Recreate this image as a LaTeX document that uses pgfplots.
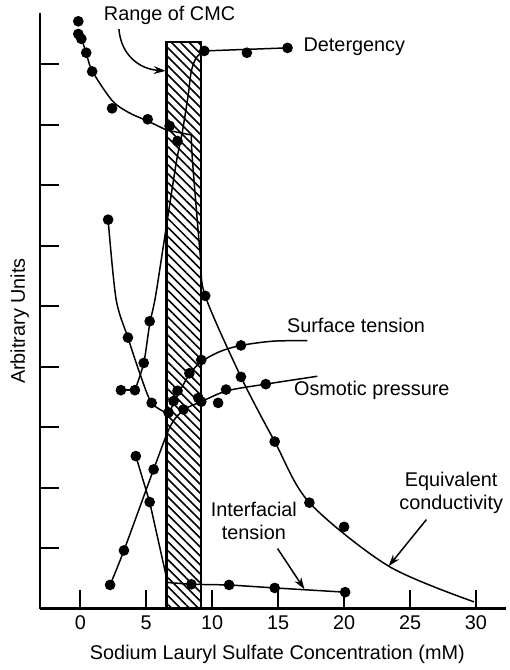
\documentclass[border=0pt]{standalone}
\usepackage{pgfplots}
\pgfplotsset{compat=1.18}
\usepackage{fontspec}
\setmainfont{Liberation Sans}
\usetikzlibrary{patterns.meta,arrows.meta}
\begin{document}
\begin{tikzpicture}[font=\fontsize{10}{11.5}\selectfont]
\begin{axis}[
  scale only axis, width=235pt, height=300pt,
  xmin=-3.08, xmax=32.26, ymin=0, ymax=9.84,
  axis x line=bottom, axis y line=left,
  axis line style={-, line width=1.1pt},
  tick align=inside, major tick length=9.5pt,
  tick style={line width=1pt, black},
  xtick={0,5,...,30}, ytick={1,2,...,9}, yticklabels={},
  /pgf/number format/assume math mode=true,
  ticklabel style={font=\fontsize{10}{11.5}\selectfont},
  xlabel={Sodium Lauryl Sulfate Concentration (mM)},
  ylabel={Arbitrary Units},
  xlabel style={at={(axis description cs:0.51,-0.0767)}, anchor=center},
  ylabel style={at={(axis description cs:-0.0426,0.483)}, anchor=center},
  clip=false,
  every axis plot/.append style={line width=0.75pt},
]
% invisible frame for the page size
\path (rel axis cs:-0.0851,-0.0967) rectangle (rel axis cs:1,1.02);

% CMC range box
\addplot[draw=black, line width=1.1pt, pattern={Lines[angle=-45,distance=3.2pt,line width=0.8pt]}]
  coordinates {(6.54,0) (6.54,9.37) (9.17,9.37) (9.17,0)};

% Equivalent conductivity
\addplot[smooth] coordinates {(-0.15,9.50) (0.08,9.42) (0.45,9.19) (0.90,8.89) (2.41,8.40) (3.68,8.20) (5.11,8.06) (6.54,7.91)};
\addplot[] coordinates {(6.54,7.91) (8.42,7.83)};
\addplot[smooth] coordinates {(8.42,7.83) (8.50,7.42) (9.10,5.83) (9.47,5.17) (12.18,3.83) (14.74,2.76) (17.37,1.75) (23.38,0.70) (29.85,0.11)};
\addplot[only marks, mark=*, mark size=2.3pt] coordinates {(-0.15,9.71) (-0.15,9.50) (0.08,9.42) (0.45,9.19) (0.90,8.88) (2.41,8.27) (5.11,8.09) (6.77,7.98) (7.37,7.73) (9.47,5.17) (12.18,3.83) (14.74,2.76) (17.37,1.75) (20.00,1.35)};

% Detergency
\addplot[] coordinates {(3.08,3.61) (4.14,3.61)};
\addplot[smooth] coordinates {(4.14,3.61) (4.81,4.06) (5.26,4.70) (5.71,5.17) (6.54,6.34) (7.29,7.39) (7.67,7.80) (7.97,8.19) (8.20,8.52) (8.42,8.89) (8.80,9.11) (9.40,9.22)};
\addplot[] coordinates {(9.40,9.22) (15.71,9.27)};
\addplot[only marks, mark=*, mark size=2.3pt] coordinates {(3.08,3.61) (4.14,3.61) (4.81,4.06) (5.26,4.75) (9.40,9.22) (12.63,9.19) (15.71,9.27)};

% Surface tension
\addplot[smooth] coordinates {(2.11,6.43) (2.71,5.12) (3.61,4.48) (4.51,3.89) (5.41,3.40) (6.69,3.22)};
\addplot[smooth] coordinates {(6.69,3.22) (7.44,3.55) (8.27,3.87) (9.17,4.08) (10.60,4.25) (12.18,4.35) (14.59,4.42) (17.22,4.43)};
\addplot[only marks, mark=*, mark size=2.3pt] coordinates {(2.11,6.43) (3.61,4.48) (5.41,3.40) (6.69,3.24) (7.07,3.43) (7.37,3.60) (8.27,3.89) (9.17,4.11) (12.18,4.35)};

% Osmotic pressure
\addplot[smooth] coordinates {(2.26,0.39) (3.31,0.96) (5.56,2.30) (6.84,3.02) (7.89,3.29) (9.17,3.42) (11.13,3.60) (14.06,3.71) (17.97,3.84)};
\addplot[only marks, mark=*, mark size=2.3pt] coordinates {(2.26,0.39) (3.31,0.96) (5.56,2.30) (7.82,3.29) (8.95,3.48) (9.17,3.42) (10.45,3.40) (11.05,3.62) (14.06,3.71)};

% Interfacial tension
\addplot[] coordinates {(4.21,2.52) (5.26,1.76) (6.62,0.43) (8.42,0.40) (11.28,0.39) (14.74,0.34) (20.08,0.27)};
\addplot[only marks, mark=*, mark size=2.3pt] coordinates {(4.21,2.52) (5.26,1.76) (8.42,0.40) (11.28,0.39) (14.74,0.34) (20.08,0.27)};

% labels
\node at (axis cs:6.77,9.80) {Range of CMC};
\draw[-{Stealth[length=6pt,width=4pt]}, line width=0.75pt] (axis cs:2.93,9.58) .. controls (axis cs:3.08,9.16) and (axis cs:4.44,8.92) .. (axis cs:6.47,8.89);
\node[anchor=west] at (axis cs:16.4,9.29) {Detergency};
\node at (axis cs:20.9,4.68) {Surface tension};
\node at (axis cs:22.1,3.60) {Osmotic pressure};
\node[align=center] at (axis cs:28.12,1.91) {Equivalent\\conductivity};
\draw[-{Stealth[length=6pt,width=4pt]}, line width=0.75pt] (axis cs:26.24,1.47) -- (axis cs:23.38,0.70);
\node[align=center] at (axis cs:13.16,1.45) {Interfacial\\tension};
\draw[-{Stealth[length=6pt,width=4pt]}, line width=0.75pt] (axis cs:14.96,0.99) -- (axis cs:16.99,0.32);
\end{axis}
\end{tikzpicture}
\end{document}
